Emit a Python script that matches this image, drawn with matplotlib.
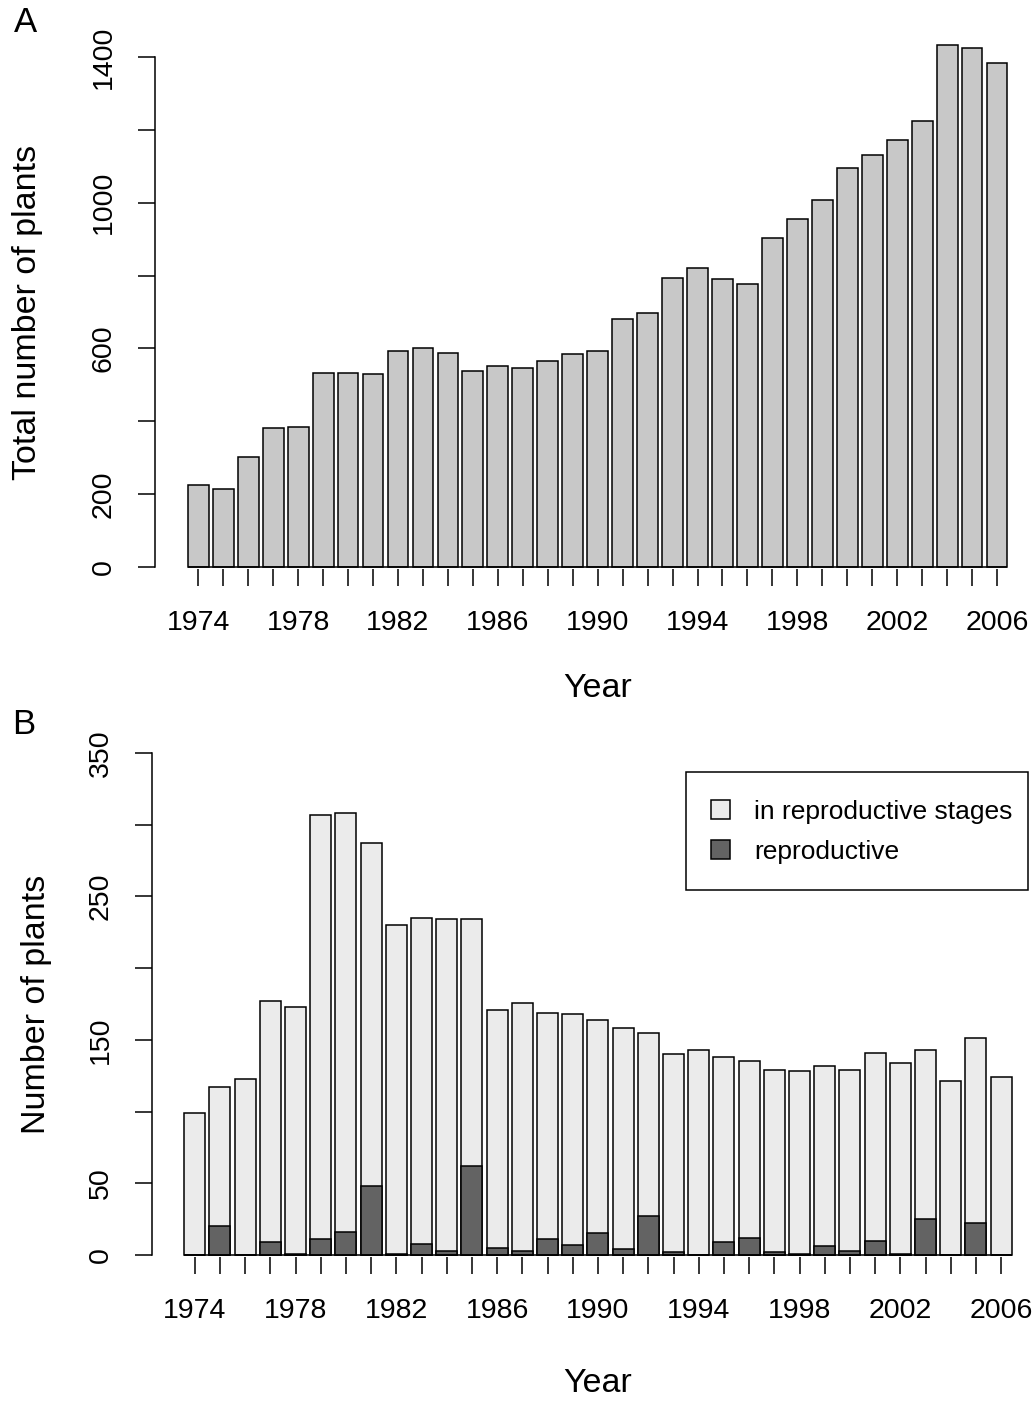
import matplotlib
matplotlib.use('Agg')
import matplotlib.pyplot as plt
from matplotlib.patches import Patch, Rectangle

plt.rcParams['font.family'] = ['Liberation Sans', 'DejaVu Sans']

# census years and counts
years = list(range(1974, 2007))
total_plants = [226, 214, 303, 382, 385, 533, 533, 529, 593, 602, 587, 537, 553, 547,
                566, 585, 593, 680, 698, 793, 822, 791, 776, 904, 954, 1008, 1096,
                1132, 1173, 1225, 1434, 1424, 1384]
in_repro_stages = [99, 117, 123, 177, 173, 307, 308, 287, 230, 235, 234, 234, 171, 176,
                   169, 168, 164, 158, 155, 140, 143, 138, 135, 129, 128, 132, 129,
                   141, 134, 143, 121, 151, 124]
reproductive = [0, 20, 0, 9, 1, 11, 16, 48, 1, 8, 3, 62, 5, 3, 11, 7, 15,
                4, 27, 2, 0, 9, 12, 2, 1, 6, 3, 10, 1, 25, 0, 22, 0]

# y ticks and the subset that gets a printed label
ticks_a = [0, 200, 400, 600, 800, 1000, 1200, 1400]
labelled_a = [0, 200, 600, 1000, 1400]
ticks_b = [0, 50, 100, 150, 200, 250, 300, 350]
labelled_b = [0, 50, 150, 250, 350]

W, H = 1035, 1411
fig = plt.figure(figsize=(W / 100, H / 100), dpi=100)

BAR_W = 1 / 1.2
LW = 1.1


def px(x, y):
    return x / W, 1 - y / H


def panel(axis_x, mid0, pitch, zero_px, top_px, yticks, ylabelled):
    """axes laid out in pixel units (R-like barplot frame)"""
    scale = (zero_px - top_px) / yticks[-1]
    bottom_px, ceil_px, right_px = zero_px + 1.5, top_px - 45, W
    ax = fig.add_axes([axis_x / W, 1 - bottom_px / H,
                       (right_px - axis_x) / W, (bottom_px - ceil_px) / H])
    ax.set_xlim(years[0] + (axis_x - mid0) / pitch, years[0] + (right_px - mid0) / pitch)
    ax.set_ylim((zero_px - bottom_px) / scale, (zero_px - ceil_px) / scale)
    for s in ['top', 'right', 'bottom']:
        ax.spines[s].set_visible(False)
    ax.spines['left'].set_bounds(yticks[0], yticks[-1])
    ax.spines['left'].set_linewidth(LW)
    ax.set_yticks(yticks)
    ax.set_yticklabels([str(v) if v in ylabelled else '' for v in yticks])
    ax.tick_params(axis='y', length=12, width=LW, labelsize=20.5, pad=15.5, labelrotation=90)
    for lab in ax.get_yticklabels():
        lab.set_va('center')
    ax.set_xticks(years)
    ax.set_xticklabels([str(y) if (y - years[0]) % 4 == 0 else '' for y in years])
    ax.tick_params(axis='x', length=12, width=LW, labelsize=20.5, pad=18)
    ax.hlines(0, years[0] - BAR_W / 2, years[-1] + BAR_W / 2, color='black', lw=LW)
    return ax


# A: all plants
axA = panel(155, 198.3, 24.96, 567, 57, ticks_a, labelled_a)
axA.bar(years, total_plants, width=BAR_W, color='#c8c8c8', edgecolor='black', linewidth=LW)
fig.text(*px(28, 312), 'Total number of plants', rotation=90,
         ha='center', va='center', fontsize=24.5)
fig.text(*px(598, 688), 'Year', ha='center', va='center', fontsize=24.5)
fig.text(*px(25, 23), 'A', ha='center', va='center', fontsize=25)

# B: plants in reproductive stages, reproductive ones drawn over them
axB = panel(152, 194.7, 25.2, 1255, 753, ticks_b, labelled_b)
axB.bar(years, in_repro_stages, width=BAR_W, color='#ebebeb', edgecolor='black', linewidth=LW)
axB.bar(years, reproductive, width=BAR_W, color='#636363', edgecolor='black', linewidth=LW)
fig.text(*px(37, 1004), 'Number of plants', rotation=90,
         ha='center', va='center', fontsize=24.5)
fig.text(*px(598, 1384), 'Year', ha='center', va='center', fontsize=24.5)
fig.text(*px(24, 724), 'B', ha='center', va='center', fontsize=25)

# legend: entries placed without frame, box drawn around them
handles = [Patch(facecolor='#ebebeb', edgecolor='black', linewidth=LW),
           Patch(facecolor='#636363', edgecolor='black', linewidth=LW)]
leg = axB.legend(handles, ['in reproductive stages', 'reproductive'],
                 loc='upper left', bbox_to_anchor=px(711, 800),
                 bbox_transform=fig.transFigure, borderaxespad=0, borderpad=0,
                 fontsize=19, frameon=False, handlelength=0.72, handleheight=0.72,
                 handletextpad=0.91, labelspacing=0.61)
fig.patches.append(Rectangle(px(686, 890), (1028 - 686) / W, (890 - 772) / H,
                             transform=fig.transFigure, fill=False,
                             edgecolor='black', linewidth=LW))

fig.savefig('out.png', dpi=100)
